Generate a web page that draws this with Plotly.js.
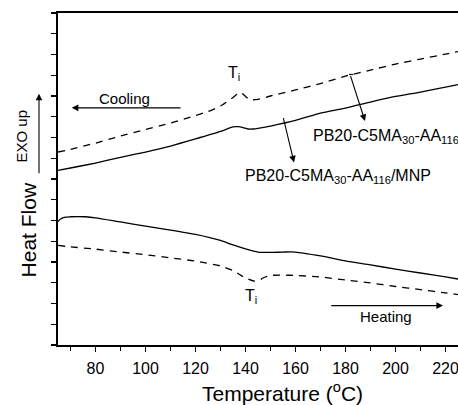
<!DOCTYPE html>
<html>
<head>
<meta charset="utf-8">
<script src="https://cdn.plot.ly/plotly-3.0.1.min.js"></script>
<style>html,body{margin:0;padding:0;background:#fff;}#chart{width:458px;height:405px;}</style>
</head>
<body>
<div id="chart"></div>
<script>
// Cooling scans (upper pair)
const coolSolidT = [65,70,80,90,100,110,120,130,135,137,139,141,143,145,150,160,170,180,190,200,210,220,225];
const coolSolidY = [8.42,8.53,8.77,9.04,9.30,9.59,9.93,10.29,10.51,10.52,10.48,10.41,10.41,10.44,10.55,10.82,11.18,11.42,11.71,11.98,12.19,12.43,12.55];
const coolDashT = [65,70,80,90,100,110,120,125,130,133,135,137,138.5,140,141.5,143,145,150,160,170,180,190,200,210,220,225];
const coolDashY = [9.30,9.43,9.73,10.07,10.39,10.70,11.06,11.25,11.52,11.76,11.93,12.12,12.13,11.98,11.83,11.82,11.84,12.00,12.29,12.60,12.96,13.25,13.54,13.78,14.02,14.14];
// Heating scans (lower pair)
const heatSolidT = [65,66,68,70,73,76,80,90,100,110,120,130,135,140,145,150,155,160,170,180,190,200,210,220,225];
const heatSolidY = [5.95,6.07,6.16,6.18,6.19,6.18,6.13,5.93,5.73,5.54,5.33,5.04,4.82,4.63,4.48,4.46,4.48,4.48,4.29,4.05,3.86,3.66,3.47,3.28,3.18];
const heatDashT = [65,70,80,90,100,110,120,130,135,138,141,143.5,145.5,147,150,155,160,170,180,190,200,210,220,225];
const heatDashY = [4.80,4.73,4.62,4.48,4.35,4.20,4.04,3.81,3.59,3.37,3.18,3.08,3.11,3.23,3.35,3.37,3.35,3.28,3.13,2.99,2.82,2.67,2.51,2.43];
const xTickVals = [80,100,120,140,160,180,200,220];

const FONT = 'Arial, "Liberation Sans", sans-serif';
const solid = {color:'#000', width:1.3};
const dashed = {color:'#000', width:1.3, dash:'7px,6px'};

const traces = [
  {x:coolSolidT, y:coolSolidY, line:solid},
  {x:coolDashT, y:coolDashY, line:dashed},
  {x:heatSolidT, y:heatSolidY, line:solid},
  {x:heatDashT, y:heatDashY, line:dashed}
].map(t => Object.assign(t, {mode:'lines', showlegend:false, hoverinfo:'skip',
   line:Object.assign({shape:'spline', smoothing:0.6}, t.line)}));

const arrow = {showarrow:true, arrowhead:2, arrowsize:1.2, arrowwidth:1.1, arrowcolor:'#000', axref:'x', ayref:'y', text:''};
const txt = (o) => Object.assign({showarrow:false, xanchor:'center', yanchor:'middle'}, o,
   {font:Object.assign({family:FONT, color:'#000'}, o.font)});

const layout = {
  width:458, height:405,
  margin:{l:58, r:0, t:13, b:60},
  paper_bgcolor:'#fff', plot_bgcolor:'#fff',
  font:{family:FONT, color:'#000'},
  xaxis:{range:[65,225], tickvals:xTickVals, ticks:'outside', ticklen:5, tickwidth:1.2,
         tickcolor:'#000', showline:true, linewidth:2, linecolor:'#000', mirror:true,
         showgrid:false, zeroline:false, tickfont:{size:16, family:FONT, color:'#000'},
         ticklabeloverflow:'allow', ticklabelstandoff:3,
         minor:{dtick:10, tick0:0, ticks:'outside', ticklen:4, tickwidth:1.2, tickcolor:'#000', showgrid:false}},
  yaxis:{range:[0,16], dtick:1, tick0:0, ticks:'outside', ticklen:5, tickwidth:1.2, tickcolor:'#000',
         showticklabels:false, showline:true, linewidth:2, linecolor:'#000', mirror:false,
         showgrid:false, zeroline:false},
  shapes:[
    {type:'line', xref:'x', yref:'y', x0:181.4, x1:183.0, y0:13.04, y1:13.04, line:{color:'#000', width:1.1}}
  ],
  annotations:[
    // arrows
    Object.assign({x:70.5, y:11.43, ax:114.6, ay:11.43}, arrow),
    Object.assign({x:219, y:1.90, ax:173.7, ay:1.90}, arrow),
    Object.assign({x:187.8, y:10.79, ax:181.8, ay:13.04}, arrow),
    Object.assign({x:159.4, y:8.80, ax:155.0, ay:11.01}, arrow),
    {xref:'paper', yref:'paper', x:-0.0475, y:0.757, ax:0, ay:81, showarrow:true, arrowhead:2,
     arrowsize:1.2, arrowwidth:1.1, arrowcolor:'#000', text:''},
    // texts
    txt({xref:'x', yref:'y', x:91.4, y:11.88, text:'Cooling', font:{size:15}}),
    txt({xref:'x', yref:'y', x:196.2, y:1.35, text:'Heating', font:{size:15}}),
    txt({xref:'x', yref:'y', x:135.4, y:13.08, text:'T<sub>i</sub>', font:{size:16}}),
    txt({xref:'x', yref:'y', x:142.2, y:2.34, text:'T<sub>i</sub>', font:{size:16}}),
    txt({xref:'x', yref:'y', x:166.2, y:10.05, xanchor:'left', text:'PB20-C5MA<sub>30</sub>-AA<sub>116</sub>', font:{size:16}}),
    txt({xref:'x', yref:'y', x:139.0, y:8.12, xanchor:'left', text:'PB20-C5MA<sub>30</sub>-AA<sub>116</sub>/MNP', font:{size:16}}),
    txt({xref:'paper', yref:'paper', x:-0.09, y:0.628, text:'EXO up', textangle:-90, font:{size:15}}),
    txt({xref:'paper', yref:'paper', x:-0.075, y:0.345, text:'Heat Flow', textangle:-90, font:{size:21}}),
    txt({xref:'paper', yref:'paper', x:0.56, y:-0.143, text:'Temperature (<sup>o</sup>C)', font:{size:21}})
  ]
};

Plotly.newPlot('chart', traces, layout, {displayModeBar:false, staticPlot:true});
</script>
</body>
</html>
